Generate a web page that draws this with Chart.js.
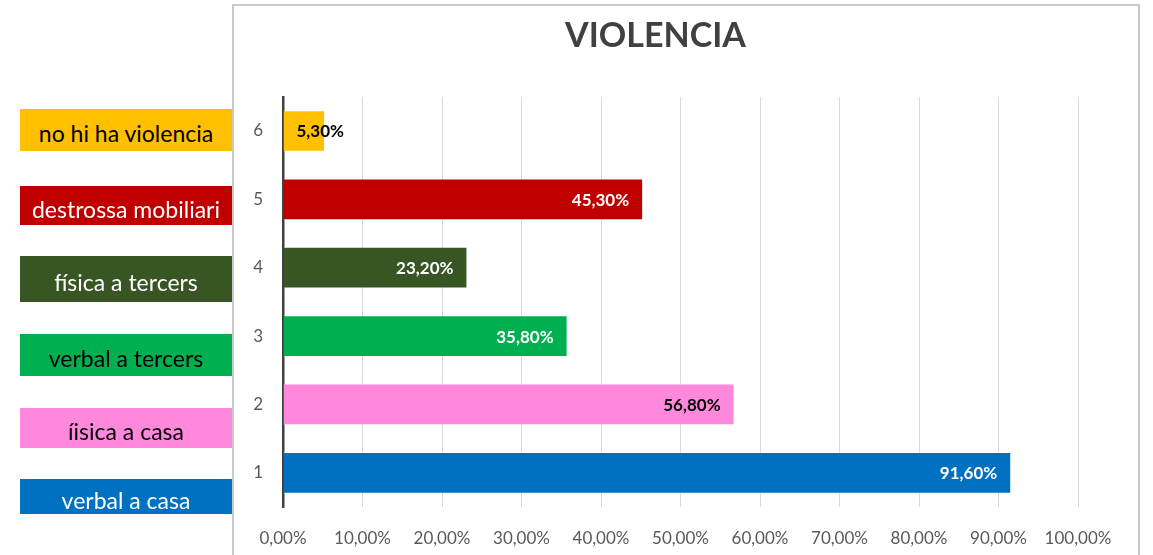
<!DOCTYPE html>
<html>
<head>
<meta charset="utf-8">
<script src="https://cdn.jsdelivr.net/npm/chart.js@4"></script>
<style>
  html, body { margin: 0; padding: 0; background: #fff; }
  #wrap { position: relative; width: 1153px; height: 555px; overflow: hidden; }
  #frame { position: absolute; left: 232px; top: 4px; width: 904px; height: 600px; border: 2px solid #c8c8c8; }
  #chart { position: absolute; left: 0; top: 0; }
  .tag { position: absolute; left: 20px; width: 212px; display: flex; align-items: center; justify-content: center;
         font-family: Lato, sans-serif; font-size: 23px; box-sizing: border-box; padding-top: 6px; }
</style>
</head>
<body>
<div id="wrap">
  <div id="frame"></div>
  <canvas id="chart" width="1153" height="555"></canvas>
</div>
<script>
// data
const categories = ['1', '2', '3', '4', '5', '6'];
const values = [91.6, 56.8, 35.8, 23.2, 45.3, 5.3];
const barColors = ['#0070c0', '#ff88dd', '#00b050', '#375623', '#c00000', '#ffc000'];
const labelColors = ['#fff', '#000', '#fff', '#fff', '#fff', '#000'];
const xTickLabels = ['0,00%', '10,00%', '20,00%', '30,00%', '40,00%', '50,00%', '60,00%', '70,00%', '80,00%', '90,00%', '100,00%'];

// coloured name boxes on the left (top to bottom)
const tagNames = ['no hi ha violencia', 'destrossa mobiliari', 'física a tercers', 'verbal a tercers', 'íisica a casa', 'verbal a casa'];
const tagColors = ['#ffc000', '#c00000', '#375623', '#00b050', '#ff88dd', '#0070c0'];
const tagText = ['#000', '#fff', '#fff', '#000', '#000', '#fff'];
const tagBoxes = [[109, 42], [186, 39], [256, 46], [334, 42], [408, 40], [479, 35]];

const wrap = document.getElementById('wrap');
tagNames.forEach((name, i) => {
    const d = document.createElement('div');
    d.className = 'tag';
    d.textContent = name;
    d.style.top = tagBoxes[i][0] + 'px';
    d.style.height = tagBoxes[i][1] + 'px';
    d.style.background = tagColors[i];
    d.style.color = tagText[i];
    wrap.appendChild(d);
});

// value labels at the end of each bar
const valueLabels = {
    id: 'valueLabels',
    afterDatasetsDraw(chart) {
        const ctx = chart.ctx;
        const meta = chart.getDatasetMeta(0);
        ctx.save();
        ctx.font = 'bold 17px Lato, sans-serif';
        ctx.textBaseline = 'middle';
        meta.data.forEach((bar, i) => {
            const txt = values[i].toFixed(2).replace('.', ',') + '%';
            const w = ctx.measureText(txt).width;
            ctx.fillStyle = labelColors[i];
            if (w + 14 < bar.x - bar.base) {
                ctx.textAlign = 'right';
                ctx.fillText(txt, bar.x - 14, bar.y + 1);
            } else {
                ctx.textAlign = 'left';
                ctx.fillText(txt, bar.base + 13, bar.y + 1);
            }
        });
        ctx.restore();
    }
};

const ctx1 = document.getElementById('chart').getContext('2d');

const config1 = {
    type: 'bar',
    data: {
        labels: categories,
        datasets: [{
            data: values,
            backgroundColor: barColors,
            borderColor: 'rgba(255,255,255,0.35)',
            borderWidth: 1,
            barPercentage: 0.61,
            categoryPercentage: 1
        }]
    },
    options: {
        indexAxis: 'y',
        responsive: false,
        animation: false,
        layout: { padding: { left: 233, right: 75, top: 0, bottom: 0 } },
        plugins: {
            legend: { display: false },
            tooltip: { enabled: false },
            title: {
                display: true,
                text: 'VIOLENCIA',
                color: '#404040',
                font: { family: 'Lato, sans-serif', size: 34, weight: 'bold', lineHeight: 1.2 },
                padding: { top: 16, bottom: 40 }
            }
        },
        scales: {
            x: {
                min: 0,
                max: 100,
                ticks: {
                    stepSize: 10,
                    color: '#595959',
                    padding: 21,
                    font: { family: 'Lato, sans-serif', size: 17 },
                    callback: (v, i) => xTickLabels[i]
                },
                grid: { color: '#d9d9d9', drawTicks: false },
                border: { display: false },
                afterFit: s => { s.height = 48; }
            },
            y: {
                reverse: true,
                ticks: {
                    color: '#595959',
                    padding: 20,
                    font: { family: 'Lato, sans-serif', size: 17 }
                },
                grid: { display: false, drawTicks: false },
                border: { display: true, color: '#404040', width: 2.5 },
                afterFit: s => { s.width = 50; }
            }
        }
    },
    plugins: [valueLabels]
};

const myChart1 = new Chart(ctx1, config1);
</script>
</body>
</html>
